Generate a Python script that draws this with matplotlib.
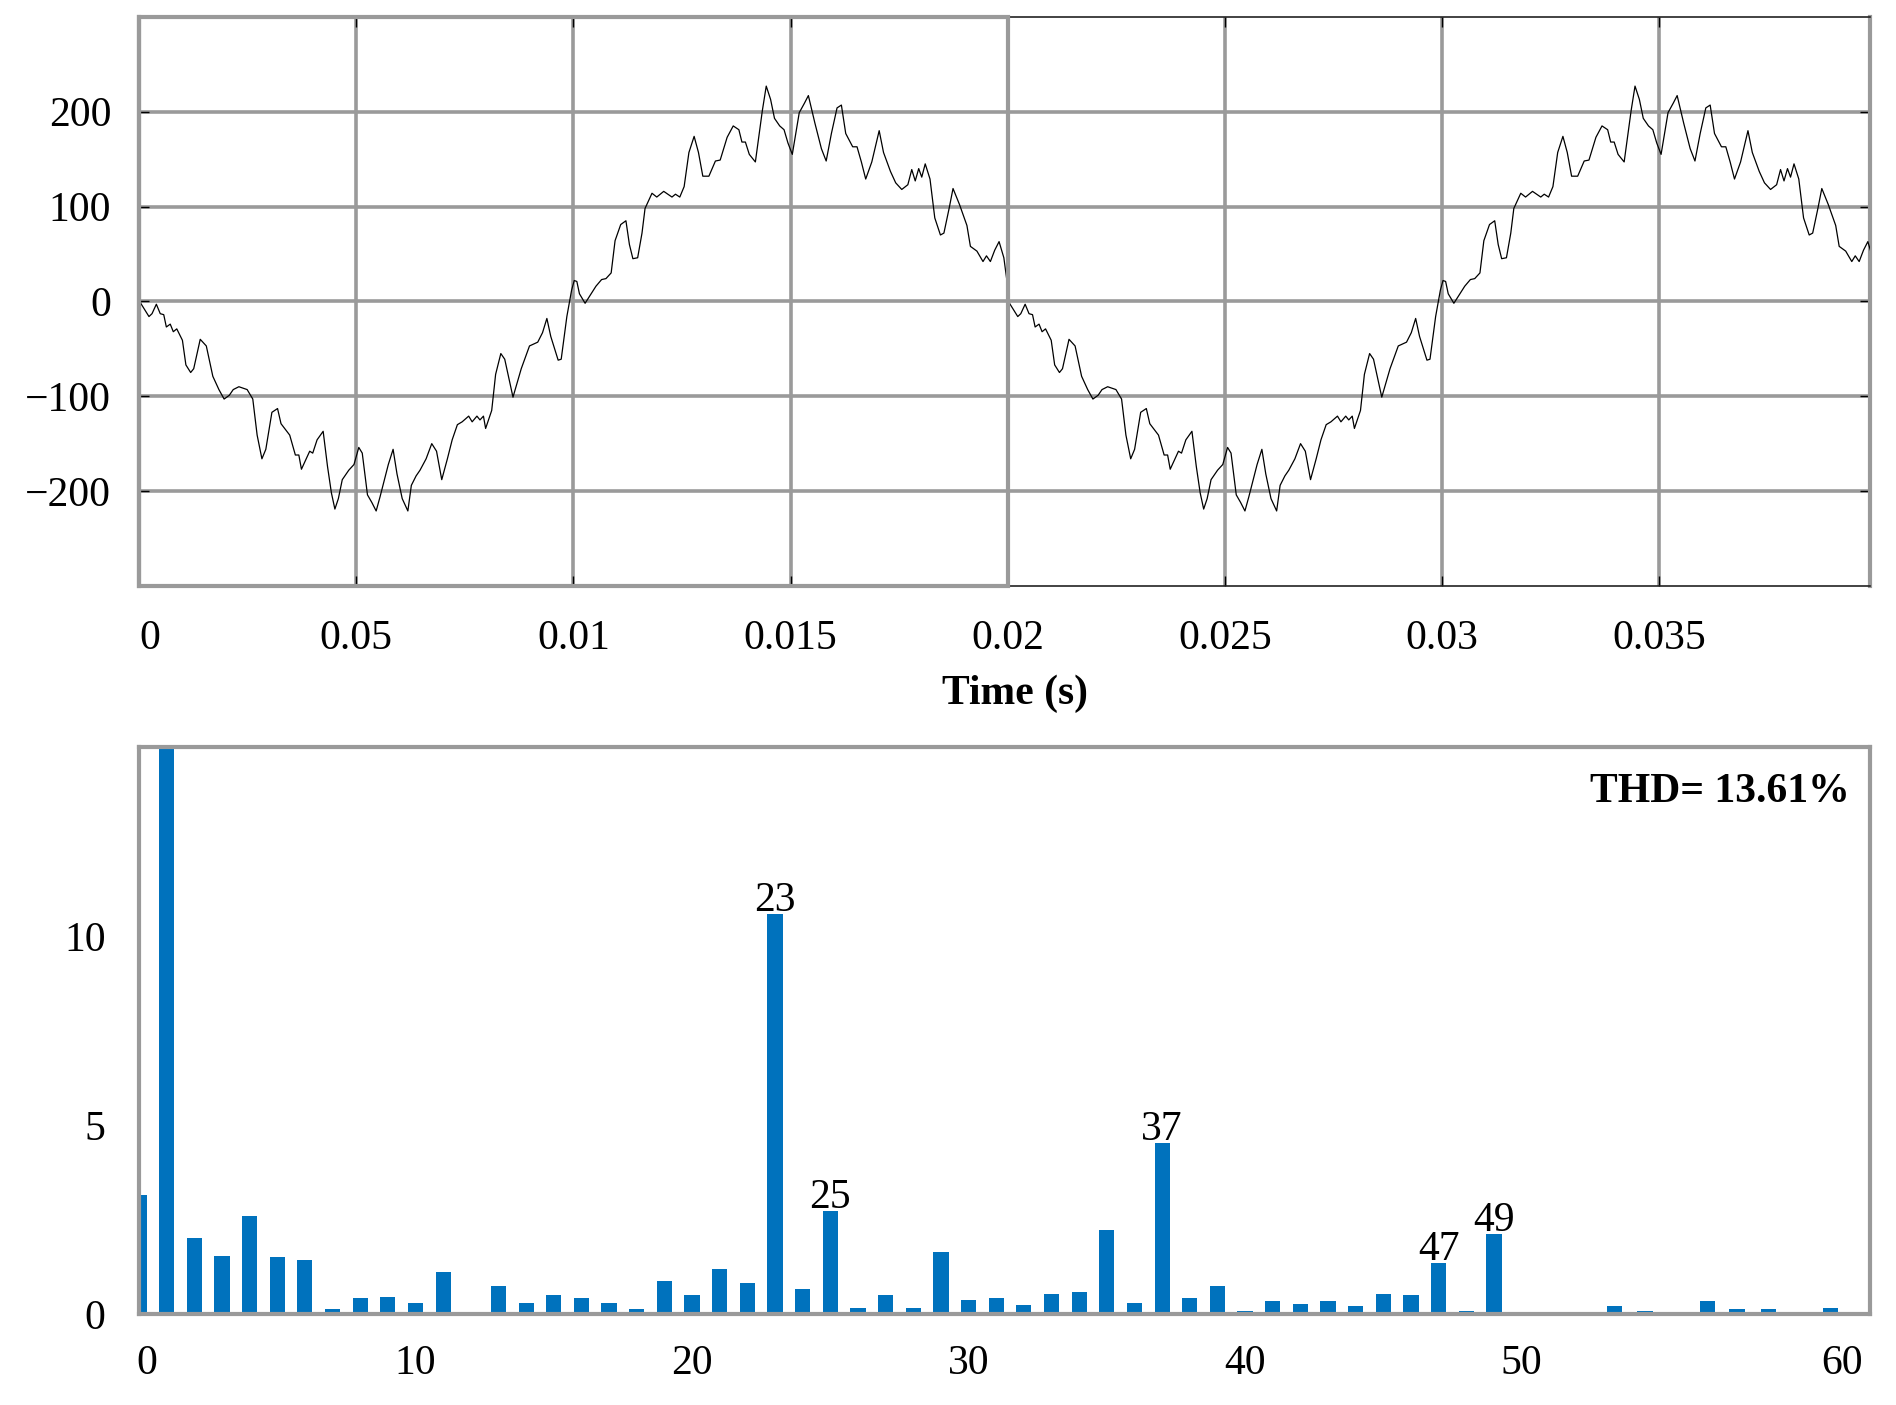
import numpy as np
import matplotlib
matplotlib.use("Agg")
import matplotlib.pyplot as plt
from matplotlib.patches import Rectangle
from matplotlib.transforms import ScaledTranslation

plt.rcParams['font.family'] = ['Liberation Serif', 'DejaVu Serif']

# ---- waveform, one 20 ms cycle (t in ms, v in V) ----
cycle_t_ms = [0.0, 0.04, 0.23, 0.30, 0.40, 0.49, 0.57, 0.63, 0.72, 0.79, 0.87, 1.00, 1.08, 1.19, 1.26,
              1.41, 1.55, 1.70, 1.84, 1.96, 2.08, 2.17, 2.30, 2.49, 2.62, 2.72, 2.83, 2.92, 3.06, 3.19,
              3.27, 3.47, 3.60, 3.68, 3.74, 3.81, 3.93, 4.00, 4.10, 4.24, 4.34, 4.43, 4.51, 4.59, 4.68,
              4.83, 4.95, 5.06, 5.14, 5.26, 5.36, 5.46, 5.55, 5.74, 5.85, 5.94, 6.06, 6.19, 6.27, 6.38,
              6.47, 6.61, 6.74, 6.85, 6.97, 7.10, 7.21, 7.33, 7.44, 7.59, 7.67, 7.78, 7.85, 7.93, 7.98,
              8.12, 8.21, 8.33, 8.42, 8.61, 8.80, 8.99, 9.18, 9.29, 9.39, 9.48, 9.65, 9.72, 9.85, 9.96,
              10.02, 10.08, 10.14, 10.27, 10.38, 10.52, 10.65, 10.75, 10.87, 10.96, 11.09, 11.21, 11.29,
              11.37, 11.48, 11.58, 11.65, 11.81, 11.92, 12.08, 12.27, 12.35, 12.45, 12.55, 12.66, 12.78,
              12.88, 12.98, 13.12, 13.27, 13.38, 13.54, 13.68, 13.81, 13.88, 13.96, 14.05, 14.19, 14.35,
              14.44, 14.54, 14.63, 14.75, 14.85, 14.94, 15.04, 15.20, 15.32, 15.41, 15.56, 15.71, 15.82,
              15.94, 16.07, 16.17, 16.27, 16.43, 16.53, 16.63, 16.73, 16.87, 17.04, 17.14, 17.30, 17.42,
              17.56, 17.70, 17.79, 17.87, 17.95, 18.02, 18.10, 18.21, 18.32, 18.45, 18.53, 18.65, 18.74,
              18.89, 19.06, 19.14, 19.29, 19.43, 19.51, 19.60, 19.70, 19.80, 19.91, 19.98]
cycle_v = [10, -2, -16, -13, -3, -13, -14, -27, -24, -32, -29, -41, -67, -75, -71,
           -40, -47, -79, -93, -103, -99, -93, -90, -93, -103, -141, -166, -156, -117, -113,
           -129, -141, -162, -162, -177, -170, -158, -160, -146, -137, -174, -202, -219, -208, -188,
           -178, -172, -154, -160, -204, -212, -221, -206, -172, -156, -182, -208, -221, -194, -184,
           -178, -166, -150, -158, -188, -166, -146, -130, -127, -121, -127, -121, -125, -121, -134,
           -115, -77, -55, -61, -101, -71, -47, -43, -33, -18, -37, -62, -61, -16, 12,
           22, 21, 8, -2, 6, 16, 23, 24, 30, 64, 81, 85, 60,
           45, 46, 72, 98, 114, 110, 116, 110, 113, 110, 121, 157, 174,
           157, 132, 132, 148, 149, 173, 185, 181, 168, 168, 155, 147, 201,
           227, 213, 193, 185, 181, 167, 155, 199, 209, 217, 188, 161, 148,
           177, 204, 207, 177, 163, 163, 147, 129, 147, 180, 157, 137, 125,
           118, 123, 139, 127, 140, 131, 145, 129, 88, 70, 72, 98, 119,
           102, 80, 58, 53, 42, 48, 42, 54, 63, 46, 22]

# the two cycles on the plot are identical
time_s = np.concatenate([np.array(cycle_t_ms), np.array(cycle_t_ms) + 20.0]) / 1000.0
voltage = np.concatenate([cycle_v, cycle_v])

xticks_top = [0, 0.005, 0.01, 0.015, 0.02, 0.025, 0.03, 0.035]
xticklabels_top = ['0', '0.05', '0.01', '0.015', '0.02', '0.025', '0.03', '0.035']
yticks_top = [-200, -100, 0, 100, 200]
yticklabels_top = ['\u2212200', '\u2212100', '0', '100', '200']

# ---- harmonic spectrum (% of fundamental) ----
harm_pos = [0, 1, 2, 3, 4, 5, 6, 7, 8, 9, 10, 11, 12, 13, 14, 15, 16, 17, 18, 19,
            20, 21, 22, 23, 24, 25, 26, 27, 28, 29, 30, 31, 32, 33, 34, 35, 36, 37, 38, 39,
            40, 41, 42, 43, 44, 45, 46, 47, 48, 49,
            53.35, 54.46, 56.71, 57.79, 58.92, 61.16, 62.24]
harm_mag = [3.14, 100, 2.00, 1.52, 2.58, 1.50, 1.44, 0.14, 0.43, 0.46, 0.30, 1.10, 0.06, 0.75, 0.30,
            0.51, 0.43, 0.30, 0.14, 0.88, 0.51, 1.20, 0.81, 10.58, 0.65, 2.72, 0.17, 0.49, 0.17, 1.65,
            0.38, 0.41, 0.25, 0.54, 0.57, 2.21, 0.30, 4.52, 0.43, 0.75, 0.09, 0.33, 0.27, 0.33, 0.22,
            0.54, 0.51, 1.34, 0.09, 2.11,
            0.22, 0.09, 0.35, 0.12, 0.12, 0.17, 0.06]
labelled = [23, 25, 37, 47, 49]
thd_text = 'THD= 13.61%'

# tick label spots as they sit under the bars
xticks_bot = [0.3, 10, 20, 30, 40, 50, 61.6]
xticklabels_bot = ['0', '10', '20', '30', '40', '50', '60']
yticks_bot = [0, 5, 10]

GRID = '#9a9a9a'
BLUE = '#0072BD'
FS = 30

fig = plt.figure(figsize=(18.96, 14.05), dpi=100)

# ============ top: waveform ============
ax1 = fig.add_axes([0.0733, 0.583, 0.913, 0.405])
ax1.plot(time_s, voltage, color='black', lw=0.9, zorder=3)
ax1.set_xlim(0, 0.03985)
ax1.set_ylim(-300, 300)
ax1.set_xticks(xticks_top)
ax1.set_xticklabels(xticklabels_top)
ax1.set_yticks(yticks_top)
ax1.set_yticklabels(yticklabels_top)
ax1.grid(True, color=GRID, lw=2.6)
ax1.set_axisbelow(True)
ax1.tick_params(direction='in', length=7, width=1, colors='black', top=True, right=True,
                labelsize=FS, pad=24)
ax1.tick_params(axis='y', pad=20)
for side in ['top', 'bottom']:
    ax1.spines[side].set_color('#222222')
    ax1.spines[side].set_linewidth(1.2)
for side in ['left', 'right']:
    ax1.spines[side].set_color(GRID)
    ax1.spines[side].set_linewidth(3)
ax1.add_patch(Rectangle((0, -300), 0.02, 600, fill=False, edgecolor=GRID, lw=3,
                        clip_on=False, zorder=4))
ax1.set_xlabel('Time (s)', fontsize=FS, fontweight='bold', labelpad=12)
ax1.xaxis.set_label_coords(0.506, -0.155)

# "0" label sits a bit right of the axis edge in the original
lbl0 = ax1.get_xticklabels()[0]
lbl0.set_transform(lbl0.get_transform() + ScaledTranslation(0.11, 0, fig.dpi_scale_trans))

# ============ bottom: spectrum ============
ax2 = fig.add_axes([0.0733, 0.0648, 0.913, 0.4036])
ax2.bar(harm_pos, harm_mag, width=0.55, color=BLUE, zorder=2)
ax2.set_xlim(0, 62.6)
ax2.set_ylim(0, 15)
ax2.set_xticks(xticks_bot)
ax2.set_xticklabels(xticklabels_bot)
ax2.set_yticks(yticks_bot)
ax2.tick_params(length=0, labelsize=FS)
ax2.tick_params(axis='x', pad=22)
ax2.tick_params(axis='y', pad=24)
for side in ax2.spines:
    ax2.spines[side].set_color(GRID)
    ax2.spines[side].set_linewidth(3)

for h in labelled:
    i = harm_pos.index(h)
    ax2.text(h, harm_mag[i] - 0.15, str(h), ha='center', va='bottom', fontsize=FS)

ax2.text(0.988, 0.92, thd_text, transform=ax2.transAxes, ha='right', va='center',
         fontsize=FS, fontweight='bold')

fig.savefig('out.png', dpi=100)
